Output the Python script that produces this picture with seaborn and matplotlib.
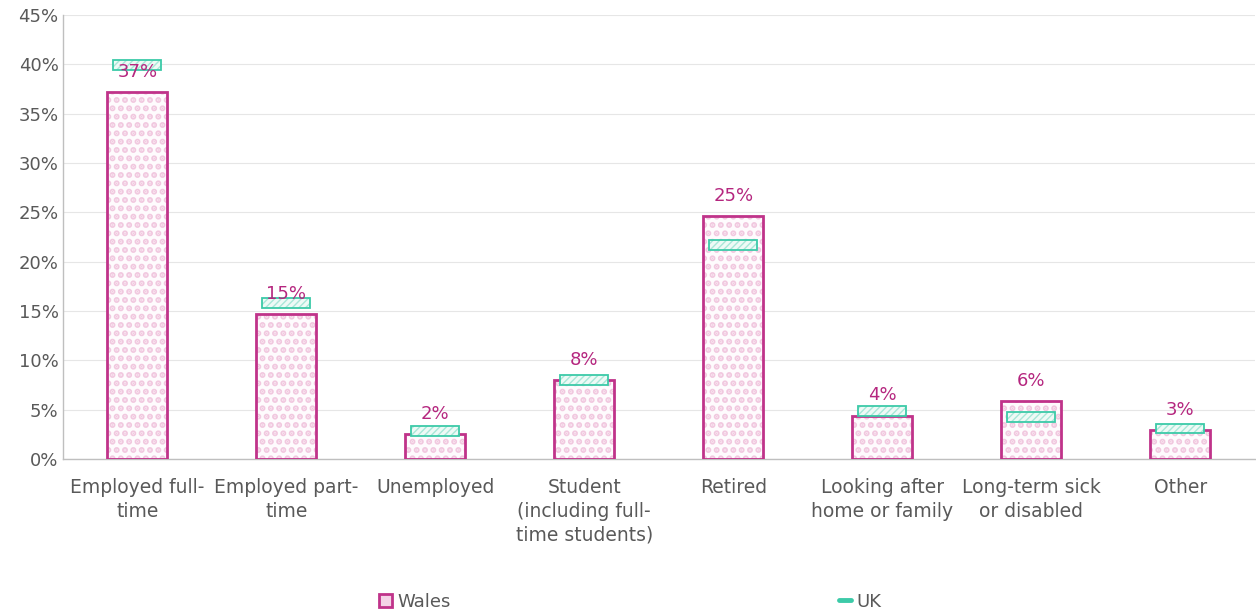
import matplotlib
matplotlib.use("Agg")
import matplotlib.pyplot as plt
import seaborn as sns
import pandas as pd
from matplotlib.patches import Patch
from matplotlib.lines import Line2D
from matplotlib.ticker import PercentFormatter

# values (percent)
categories = ["Employed full-\ntime", "Employed part-\ntime", "Unemployed",
              "Student\n(including full-\ntime students)", "Retired",
              "Looking after\nhome or family", "Long-term sick\nor disabled", "Other"]
wales = [37.2, 14.7, 2.5, 8.0, 24.6, 4.4, 5.9, 2.9]
uk = [39.9, 15.8, 2.8, 8.0, 21.7, 4.9, 4.3, 3.1]

magenta = "#c0338a"
label_col = "#b5267f"
teal = "#3ccaa8"
grey_txt = "#595959"

sns.set_theme(style="white")
plt.rcParams["font.family"] = ["DejaVu Sans"]

df = pd.DataFrame({"category": categories, "wales": wales, "uk": uk})

fig = plt.figure(figsize=(12.56, 6.14), dpi=100)
ax = fig.add_axes([0.050, 0.2524, 0.949, 0.7232])

# Wales bars: dotted pink fill, then magenta outline on top
plt.rcParams["hatch.linewidth"] = 3.0
sns.barplot(data=df, x="category", y="wales", ax=ax, width=0.4,
            color="#fefbfd", edgecolor="#f1c8df", linewidth=0, hatch="..",
            saturation=1, zorder=2)
sns.barplot(data=df, x="category", y="wales", ax=ax, width=0.4,
            fill=False, edgecolor=magenta, linewidth=2, zorder=3)

# UK markers: thin hatched rectangles centred on the UK value
uk_h = 1.0
x = range(len(categories))
uk_fill = ax.bar(x, [uk_h] * len(uk), width=0.32, bottom=[v - uk_h / 2 for v in uk],
                 color="#eefaf6", edgecolor="#a8e7d8", linewidth=0, hatch="/////", zorder=4)
for p in uk_fill:
    if hasattr(p, "set_hatch_linewidth"):
        p.set_hatch_linewidth(1.0)
ax.bar(x, [uk_h] * len(uk), width=0.32, bottom=[v - uk_h / 2 for v in uk],
       fill=False, edgecolor=teal, linewidth=1.3, zorder=5)

for i, v in enumerate(wales):
    ax.annotate(f"{round(v):.0f}%", (i, v), xytext=(0, 8), textcoords="offset points",
                ha="center", va="bottom", color=label_col, fontsize=13, zorder=6)

ax.set_ylim(0, 45)
ax.set_xlim(-0.5, 7.5)
ax.set_yticks(range(0, 46, 5))
ax.yaxis.set_major_formatter(PercentFormatter(decimals=0))
ax.yaxis.grid(True, color="#e6e6e6", linewidth=0.8, zorder=0)
ax.set_axisbelow(True)
ax.set_xlabel("")
ax.set_ylabel("")
ax.tick_params(axis="y", colors=grey_txt, labelsize=13, length=0, pad=3)
ax.tick_params(axis="x", colors=grey_txt, labelsize=13.5, length=0, pad=14)
for lbl in ax.get_xticklabels():
    lbl.set_linespacing(1.3)
for s in ["top", "right"]:
    ax.spines[s].set_visible(False)
for s in ["left", "bottom"]:
    ax.spines[s].set_color("#bfbfbf")
    ax.spines[s].set_linewidth(1)

handles = [Patch(facecolor="#f4d3e7", edgecolor=magenta, linewidth=2),
           Line2D([0], [0], color=teal, linewidth=3.5)]
fig.legend(handles, ["Wales", "UK"], loc="center", bbox_to_anchor=(0.502, 0.02),
           ncol=2, frameon=False, fontsize=13, labelcolor=grey_txt,
           handlelength=0.7, handleheight=0.7, handletextpad=0.3, columnspacing=21.5)

fig.savefig("out.png", dpi=100)
